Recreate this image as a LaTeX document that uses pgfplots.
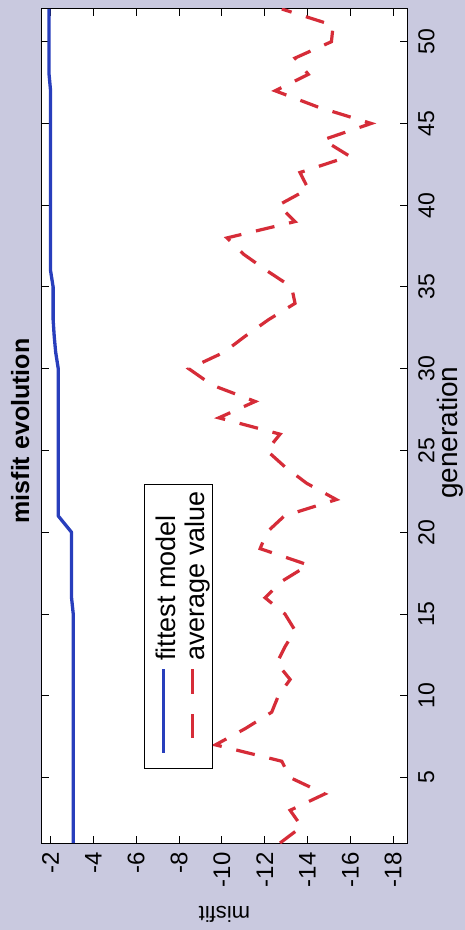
\documentclass[border=0pt]{standalone}
\usepackage{fontspec}
\setmainfont{Liberation Sans}
\usepackage{pgfplots}
\pgfplotsset{compat=1.18}
\usepackage{pgfplotstable}
\usetikzlibrary{backgrounds}

\definecolor{figbg}{RGB}{201,201,223}
\definecolor{fitblue}{RGB}{40,62,188}
\definecolor{avgred}{RGB}{214,44,56}

% misfit of the fittest model per generation
\pgfplotstableread{
gen misfit
1 -3.06
2 -3.06
3 -3.06
4 -3.06
5 -3.06
6 -3.06
7 -3.06
8 -3.06
9 -3.06
10 -3.06
11 -3.06
12 -3.06
13 -3.06
14 -3.06
15 -3.06
16 -2.98
17 -2.98
18 -2.98
19 -2.98
20 -2.98
21 -2.36
22 -2.36
23 -2.36
24 -2.36
25 -2.36
26 -2.36
27 -2.36
28 -2.36
29 -2.36
30 -2.36
31 -2.24
32 -2.17
33 -2.12
34 -2.12
35 -2.12
36 -2.00
37 -2.00
38 -2.00
39 -2.00
40 -2.00
41 -2.00
42 -2.00
43 -2.00
44 -2.00
45 -2.00
46 -2.00
47 -2.00
48 -1.93
49 -1.93
50 -1.93
51 -1.93
52 -1.93
}\fittest

% average misfit of the population per generation
\pgfplotstableread{
gen misfit
1 -12.72
2 -13.73
3 -13.19
4 -14.81
5 -13.19
6 -12.80
7 -9.70
8 -11.10
9 -12.33
10 -12.64
11 -13.19
12 -12.57
13 -12.95
14 -13.42
15 -12.95
16 -12.02
17 -12.80
18 -14.04
19 -11.79
20 -12.10
21 -12.92
22 -15.35
23 -13.96
24 -12.95
25 -12.10
26 -12.72
27 -9.86
28 -11.56
29 -9.55
30 -8.46
31 -10.09
32 -11.10
33 -12.18
34 -13.42
35 -13.26
36 -12.10
37 -11.02
38 -10.24
39 -13.42
40 -12.64
41 -14.04
42 -13.65
43 -15.97
44 -14.73
45 -16.98
46 -14.50
47 -12.49
48 -14.04
49 -13.42
50 -15.12
51 -15.20
52 -12.80
}\average

\begin{document}
\begin{tikzpicture}
\begin{axis}[
  name=ax,
  scale only axis,
  width=182.5pt,
  height=417pt,
  x dir=reverse,
  xmin=-18.65, xmax=-1.6,
  ymin=1, ymax=52,
  xtick={-18,-16,-14,-12,-10,-8,-6,-4,-2},
  xticklabels={-18,-16,-14,-12,-10,-8,-6,-4,-2},
  ytick={5,10,15,20,25,30,35,40,45,50},
  yticklabels={5,10,15,20,25,30,35,40,45,50},
  yticklabel pos=right,
  tick align=inside,
  major tick length=3.5pt,
  every tick/.style={black, line width=0.5pt},
  axis line style={black, line width=0.5pt},
  axis background/.style={fill=white},
  ticklabel style={inner sep=0pt},
  xticklabel style={rotate=90, anchor=east, font=\fontsize{12}{14}\selectfont},
  yticklabel style={rotate=90, anchor=north, font=\fontsize{11.5}{14}\selectfont},
  xticklabel shift=4.5pt,
  yticklabel shift=5.5pt,
  xlabel={misfit},
  ylabel={generation},
  title={misfit evolution},
  every axis x label/.style={at={(axis description cs:0.5,-0.0755)}, anchor=south, rotate=180, inner sep=0pt, font=\fontsize{11}{14}\selectfont},
  every axis y label/.style={at={(axis description cs:1.139,0.492)}, anchor=base, rotate=90, inner sep=0pt, font=\fontsize{14}{16}\selectfont},
  every axis title/.style={at={(axis description cs:-0.0356,0.494)}, anchor=base, rotate=90, inner sep=0pt, font=\bfseries\fontsize{12.5}{14}\selectfont},
]
\addplot[color=fitblue, line width=1.65pt, line join=round, no marks]
  table[x=misfit, y=gen] {\fittest};
\addplot[color=avgred, line width=1.6pt, no marks, dash pattern=on 9.5pt off 7.5pt]
  table[x=misfit, y=gen] {\average};
% legend box, turned like the rest of the figure
\node[rotate=90, draw=black, line width=0.5pt, fill=white, inner sep=0pt,
  font=\fontsize{13.5}{14}\selectfont, anchor=center]
  at (axis description cs:0.374,0.2596) {%
  \renewcommand{\arraystretch}{0}%
  \begin{tabular}{@{\hspace{8pt}}l@{\hspace{4pt}}l@{\hspace{3.5pt}}}
  \rule{0pt}{15.5pt}\textcolor{fitblue}{\rule[5.2pt]{42pt}{1.65pt}} & fittest model\\
  \rule[-4pt]{0pt}{18pt}\textcolor{avgred}{\hspace*{7.5pt}\rule[5.2pt]{12pt}{1.6pt}\hspace{10pt}\rule[5.2pt]{12.5pt}{1.6pt}} & average value
  \end{tabular}};
\end{axis}
\begin{scope}[on background layer]
\fill[figbg] ([xshift=-21pt,yshift=-43.5pt]ax.south west) rectangle ([xshift=29pt,yshift=4.5pt]ax.north east);
\end{scope}
\pgfresetboundingbox
\path[use as bounding box] ([xshift=-21pt,yshift=-43.5pt]ax.south west) rectangle ([xshift=29pt,yshift=4.5pt]ax.north east);
\end{tikzpicture}
\end{document}
